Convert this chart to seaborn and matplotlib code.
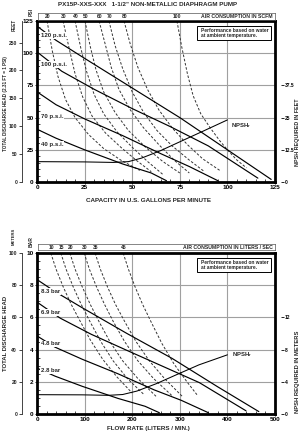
import numpy as np
import pandas as pd
import matplotlib
matplotlib.use("Agg")
import matplotlib.pyplot as plt
from matplotlib.patches import Rectangle
from matplotlib.ticker import MultipleLocator
import seaborn as sns

sns.set_theme(style="white")
plt.rcParams['font.family'] = ['Liberation Sans', 'DejaVu Sans']
plt.rcParams['font.weight'] = 'bold'
plt.rcParams['mathtext.default'] = 'regular'

# ---------------- US units chart (gpm, psi) ----------------
us_head_labels = ["120 p.s.i.", "100 p.s.i.", "70 p.s.i.", "40 p.s.i."]
us_120_gpm = [0, 10, 25, 50, 75, 100, 123]
us_120_psi = [121, 110, 96, 73, 50, 25, 2]
us_100_gpm = [0, 13, 30, 50, 70, 90, 116]
us_100_psi = [101, 86, 72, 57, 43, 28, 3]
us_70_gpm = [0, 10, 25, 45, 65, 80, 95]
us_70_psi = [70, 60, 49, 36, 22, 12, 1]
us_40_gpm = [0, 10, 25, 45, 60, 68]
us_40_psi = [41, 34, 25, 14, 7, 1]
us_label_psi = [114, 91, 50.5, 29]

us_npsh_gpm = [0, 25, 40, 48, 55, 65, 75, 88, 100]
us_npsh_ft = [7.9, 7.8, 7.6, 7.9, 9.3, 12.2, 15.6, 20.0, 24.1]

scfm_labels = ["20", "30", "40", "50", "60", "70", "80", "100"]
scfm_20_gpm = [5.3, 8, 11, 15, 20, 27, 35, 44, 54]
scfm_20_psi = [125, 102, 82, 64, 50, 37, 26, 17, 9]
scfm_30_gpm = [13.7, 17, 20, 24, 29, 36, 44, 52, 60]
scfm_30_psi = [125, 103, 84, 66, 51, 38, 27, 17, 8]
scfm_40_gpm = [20, 23, 26, 30, 35, 42, 50, 58, 66]
scfm_40_psi = [125, 104, 86, 68, 53, 39, 27, 16, 6]
scfm_50_gpm = [25.2, 28, 31, 35, 41, 48, 57, 66, 75]
scfm_50_psi = [125, 105, 87, 70, 54, 40, 27, 16, 7]
scfm_60_gpm = [32.6, 36, 39, 43, 49, 56, 64, 72, 80]
scfm_60_psi = [125, 106, 89, 72, 56, 42, 29, 17, 7]
scfm_70_gpm = [37.8, 41, 45, 50, 56, 63, 71, 80, 88]
scfm_70_psi = [125, 106, 88, 70, 54, 40, 28, 17, 8]
scfm_80_gpm = [45.7, 49, 53, 58, 64, 71, 79, 87, 96]
scfm_80_psi = [125, 107, 89, 72, 56, 42, 29, 18, 9]
scfm_100_gpm = [73.5, 76, 79, 82, 86, 91, 96, 100, 105, 110]
scfm_100_psi = [125, 105, 84, 67, 53, 42, 32, 25, 17, 11]
scfm_pos_gpm = [5.3, 13.7, 20, 25.2, 32.6, 37.8, 45.7, 73.5]

# ---------------- Metric chart (lpm, bar) ----------------
si_head_labels = ["8.3 bar", "6.9 bar", "4.8 bar", "2.8 bar"]
si_83_lpm = [0, 38, 95, 189, 284, 379, 466]
si_83_bar = [8.35, 7.6, 6.6, 5.0, 3.45, 1.7, 0.15]
si_69_lpm = [0, 49, 114, 189, 265, 341, 439]
si_69_bar = [6.95, 5.95, 4.95, 3.95, 2.95, 1.95, 0.2]
si_48_lpm = [0, 38, 95, 170, 246, 303, 360]
si_48_bar = [4.85, 4.15, 3.4, 2.5, 1.5, 0.85, 0.08]
si_28_lpm = [0, 38, 95, 170, 227, 257]
si_28_bar = [2.85, 2.35, 1.72, 0.97, 0.48, 0.08]
si_label_bar = [7.6, 6.3, 4.35, 2.7]

si_npsh_lpm = [0, 95, 150, 180, 210, 250, 290, 340, 400]
si_npsh_m = [2.4, 2.38, 2.32, 2.42, 2.85, 3.75, 4.8, 6.1, 7.35]

lps_labels = ["10", "15", "20", "30", "35", "45"]
lps_10_lpm = [29, 40, 55, 72, 90, 112, 138, 168, 200]
lps_10_bar = [10, 9.0, 7.9, 6.8, 5.8, 4.6, 3.4, 2.3, 1.3]
lps_15_lpm = [50, 61, 76, 93, 112, 134, 160, 190, 225]
lps_15_bar = [10, 9.0, 7.9, 6.8, 5.7, 4.5, 3.3, 2.2, 1.2]
lps_20_lpm = [69, 80, 95, 112, 131, 153, 180, 212, 250]
lps_20_bar = [10, 9.0, 7.9, 6.8, 5.7, 4.5, 3.3, 2.2, 1.1]
lps_30_lpm = [99, 110, 125, 142, 161, 184, 212, 245, 285]
lps_30_bar = [10, 9.0, 7.9, 6.8, 5.7, 4.5, 3.3, 2.2, 1.1]
lps_35_lpm = [122, 133, 148, 165, 185, 208, 236, 268, 305]
lps_35_bar = [10, 9.0, 7.9, 6.8, 5.7, 4.5, 3.3, 2.2, 1.1]
lps_45_lpm = [181, 192, 206, 222, 240, 262, 288, 315, 336]
lps_45_bar = [10, 9.0, 7.9, 6.8, 5.7, 4.4, 3.1, 2.0, 1.2]
lps_pos_lpm = [29, 50, 69, 99, 122, 181]

W, H = 300, 432
fig = plt.figure(figsize=(W / 100, H / 100), dpi=100)
fig.patch.set_facecolor("white")

TICK_FS = 4.6
GRID = "#a0a0a0"
DASH = (0, (2.6, 1.8))


def px_rect(x0, y0, x1, y1):
    return [x0 / W, 1 - y1 / H, (x1 - x0) / W, (y1 - y0) / H]


def line(ax, xs, ys, dashed=False, lw=0.85):
    df = pd.DataFrame({"x": xs, "y": ys})
    kw = dict(linestyle=DASH, linewidth=0.7, color="#333333") if dashed else dict(linewidth=lw, color="black")
    sns.lineplot(data=df, x="x", y="y", ax=ax, sort=False, estimator=None, legend=False, **kw)


def setup_main(ax, xmax, ymax, xmaj, ymaj, xmin, ymin):
    ax.set_xlim(0, xmax)
    ax.set_ylim(0, ymax)
    ax.set_xlabel("")
    ax.set_ylabel("")
    ax.xaxis.set_major_locator(MultipleLocator(xmaj))
    ax.yaxis.set_major_locator(MultipleLocator(ymaj))
    ax.xaxis.set_minor_locator(MultipleLocator(xmin))
    ax.yaxis.set_minor_locator(MultipleLocator(ymin))
    ax.grid(True, which="major", color=GRID, linewidth=0.8)
    ax.tick_params(which="major", direction="out", length=1.5, width=0.6, labelsize=TICK_FS, pad=1.0,
                   colors="black")
    ax.tick_params(which="minor", direction="in", length=2, width=0.5, colors="black")
    ax.tick_params(axis="x", which="both", bottom=True, top=False)
    ax.tick_params(axis="y", which="both", left=True, right=False)
    for s in ax.spines.values():
        s.set_linewidth(2.0)
        s.set_color("black")
    for t in ax.get_xticklabels() + ax.get_yticklabels():
        t.set_fontweight("bold")


def air_strip(rect, xmax, positions, labels, title):
    a = fig.add_axes(rect)
    a.set_xlim(0, xmax)
    a.set_ylim(0, 1)
    a.set_xticks([])
    a.set_yticks([])
    for s in a.spines.values():
        s.set_linewidth(0.5)
        s.set_color("#555555")
    for p, l in zip(positions, labels):
        a.text(p, 0.45, l, ha="center", va="center", fontsize=3.6, fontweight="bold")
    a.text(0.992, 0.45, title, transform=a.transAxes, ha="right", va="center", fontsize=3.7, fontweight="bold")
    return a


def perf_box(ax):
    ax.add_patch(Rectangle((0.672, 0.882), 0.311, 0.088, transform=ax.transAxes, facecolor="white",
                           edgecolor="black", linewidth=0.7, zorder=5))
    ax.text(0.688, 0.926, "Performance based on water\nat ambient temperature.", transform=ax.transAxes,
            ha="left", va="center", fontsize=3.5, fontweight="bold", linespacing=1.2, zorder=6)


def right_npsh(ax, ymax, ticks, labels):
    n = ax.twinx()
    n.set_ylim(0, ymax)
    n.set_ylabel("")
    n.set_yticks(ticks)
    n.set_yticklabels(labels)
    n.spines["right"].set_position(("outward", 4))
    for k in ["right", "left", "top", "bottom"]:
        n.spines[k].set_visible(False)
    n.tick_params(axis="y", length=2.0, width=0.6, labelsize=3.5, pad=0.8, colors="black")
    return n


# ======================= TOP CHART =======================
ax1 = fig.add_axes(px_rect(37, 21, 275, 182))
us_curves = [(us_120_gpm, us_120_psi), (us_100_gpm, us_100_psi), (us_70_gpm, us_70_psi), (us_40_gpm, us_40_psi)]
scfm_curves = [(scfm_20_gpm, scfm_20_psi), (scfm_30_gpm, scfm_30_psi), (scfm_40_gpm, scfm_40_psi),
               (scfm_50_gpm, scfm_50_psi), (scfm_60_gpm, scfm_60_psi), (scfm_70_gpm, scfm_70_psi),
               (scfm_80_gpm, scfm_80_psi), (scfm_100_gpm, scfm_100_psi)]
for xs, ys in scfm_curves:
    line(ax1, xs, ys, dashed=True)
for xs, ys in us_curves:
    line(ax1, xs, ys)
setup_main(ax1, 125, 125, 25, 25, 5, 5)
for lab, yv in zip(us_head_labels, us_label_psi):
    ax1.text(2, yv, lab, fontsize=4.4, fontweight="bold", ha="left", va="center",
             bbox=dict(facecolor="white", edgecolor="none", pad=0.6), zorder=4)
perf_box(ax1)

ft = ax1.secondary_yaxis(-15 / 238, functions=(lambda p: p * 2.31, lambda f: f / 2.31))
ft.set_yticks([0, 50, 100, 150, 200, 250])
ft.spines["left"].set_linewidth(0.6)
ft.tick_params(length=2.5, width=0.6, labelsize=3.6, pad=1)

n1 = right_npsh(ax1, 62.5, [0, 12.5, 25, 37.5], ["0", "12.5", "25", "37.5"])
n1.set_xlim(0, 125)
line(n1, us_npsh_gpm, us_npsh_ft, lw=0.75)
n1.set_ylabel("")
ax1.text(102, 44, "NPSH$_{r}$", fontsize=4.3, fontweight="bold", ha="left", va="center")

air_strip(px_rect(38, 13, 275, 19.5), 125, scfm_pos_gpm, scfm_labels, "AIR CONSUMPTION IN SCFM")

fig.text(148 / W, 1 - 4 / H, 'PX15P-XXS-XXX   1-1/2" NON-METALLIC DIAPHRAGM PUMP', ha="center", va="center",
         fontsize=4.5, fontweight="bold")
fig.text(148 / W, 1 - 200 / H, "CAPACITY IN U.S. GALLONS PER MINUTE", ha="center", va="center",
         fontsize=4.5, fontweight="bold")
fig.text(31 / W, 1 - 12 / H, "PSI", rotation=90, ha="center", va="center", fontsize=3.6, fontweight="bold")
fig.text(14 / W, 1 - 25 / H, "FEET", rotation=90, ha="center", va="center", fontsize=3.4, fontweight="bold")
fig.text(6 / W, 1 - 104 / H, "TOTAL DISCHARGE HEAD (2.31 FT = 1 PSI)", rotation=90, ha="center", va="center",
         fontsize=3.3, fontweight="bold")
fig.text(297 / W, 1 - 132 / H, "NPSH REQUIRED IN FEET", rotation=90, ha="center", va="center",
         fontsize=3.9, fontweight="bold")

# ======================= BOTTOM CHART =======================
ax2 = fig.add_axes(px_rect(37, 253, 275, 414))
si_curves = [(si_83_lpm, si_83_bar), (si_69_lpm, si_69_bar), (si_48_lpm, si_48_bar), (si_28_lpm, si_28_bar)]
lps_curves = [(lps_10_lpm, lps_10_bar), (lps_15_lpm, lps_15_bar), (lps_20_lpm, lps_20_bar),
              (lps_30_lpm, lps_30_bar), (lps_35_lpm, lps_35_bar), (lps_45_lpm, lps_45_bar)]
for xs, ys in lps_curves:
    line(ax2, xs, ys, dashed=True)
for xs, ys in si_curves:
    line(ax2, xs, ys)
setup_main(ax2, 500, 10, 100, 2, 20, 0.5)
for lab, yv in zip(si_head_labels, si_label_bar):
    ax2.text(8, yv, lab, fontsize=4.3, fontweight="bold", ha="left", va="center",
             bbox=dict(facecolor="white", edgecolor="none", pad=0.6), zorder=4)
perf_box(ax2)

mt = ax2.secondary_yaxis(-15 / 238, functions=(lambda b: b * 10, lambda m: m / 10))
mt.set_yticks([0, 20, 40, 60, 80, 100])
mt.spines["left"].set_linewidth(0.6)
mt.tick_params(length=2.5, width=0.6, labelsize=3.6, pad=1)

n2 = right_npsh(ax2, 20, [0, 4, 8, 12], ["0", "4", "8", "12"])
n2.set_xlim(0, 500)
line(n2, si_npsh_lpm, si_npsh_m, lw=0.75)
n2.set_ylabel("")
ax2.text(410, 3.7, "NPSH$_{r}$", fontsize=4.3, fontweight="bold", ha="left", va="center")

air_strip(px_rect(38, 243.5, 275, 250), 500, lps_pos_lpm, lps_labels, "AIR CONSUMPTION IN LITERS / SEC")

fig.text(148 / W, 1 - 428.5 / H, "FLOW RATE (LITERS / MIN.)", ha="center", va="center",
         fontsize=4.5, fontweight="bold")
fig.text(31 / W, 1 - 242 / H, "BAR", rotation=90, ha="center", va="center", fontsize=3.6, fontweight="bold")
fig.text(14 / W, 1 - 236 / H, "METERS", rotation=90, ha="center", va="center", fontsize=3.0, fontweight="bold")
fig.text(6 / W, 1 - 333 / H, "TOTAL DISCHARGE HEAD", rotation=90, ha="center", va="center",
         fontsize=4.3, fontweight="bold")
fig.text(297 / W, 1 - 372 / H, "NPSH REQUIRED IN METERS", rotation=90, ha="center", va="center",
         fontsize=4.2, fontweight="bold")

fig.savefig("out.png", dpi=100, facecolor="white")
